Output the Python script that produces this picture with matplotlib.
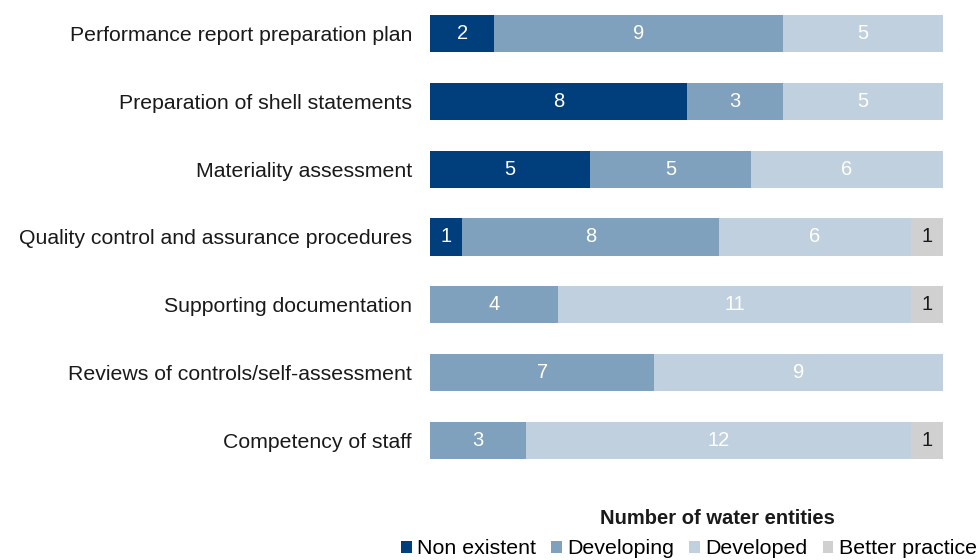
import numpy as np
import matplotlib
matplotlib.use('Agg')
import matplotlib.pyplot as plt
from matplotlib.patches import Patch

plt.rcParams['font.family'] = ['Liberation Sans', 'DejaVu Sans']

categories = [
    'Performance report preparation plan',
    'Preparation of shell statements',
    'Materiality assessment',
    'Quality control and assurance procedures',
    'Supporting documentation',
    'Reviews of controls/self-assessment',
    'Competency of staff',
]
non_existent = [2, 8, 5, 1, 0, 0, 0]
developing = [9, 3, 5, 8, 4, 7, 3]
developed = [5, 5, 6, 6, 11, 9, 12]
better_practice = [0, 0, 0, 1, 1, 0, 1]

series = [
    ('Non existent', non_existent, '#013f7c', 'white'),
    ('Developing', developing, '#7fa1be', 'white'),
    ('Developed', developed, '#c0d0df', 'white'),
    ('Better practice', better_practice, '#d0d0d0', '#1a1a1a'),
]

fig = plt.figure(figsize=(9.8, 5.6), dpi=100)
ax = fig.add_axes([430 / 980, 1 - 474 / 560, 513 / 980, 474 / 560])

y = np.arange(len(categories))
left = np.zeros(len(categories))
for name, vals, color, tcolor in series:
    vals = np.array(vals, dtype=float)
    ax.barh(y, vals, left=left, height=0.55, color=color, edgecolor='none')
    for yi, (l, v) in enumerate(zip(left, vals)):
        if v > 0:
            ax.text(l + v / 2, yi, f'{int(v)}', ha='center', va='center',
                    color=tcolor, fontsize=14.5)
    left += vals

ax.set_xlim(0, 16)
ax.set_ylim(len(categories) - 0.5, -0.5)
ax.set_yticks(y)
ax.set_yticklabels(categories, fontsize=15.3, color='#1a1a1a')
ax.tick_params(axis='y', length=0, pad=13)
ax.set_xticks([])
for s in ax.spines.values():
    s.set_visible(False)

fig.text(717 / 980, 1 - 518 / 560, 'Number of water entities', ha='center',
         va='center', fontsize=14.5, fontweight='bold', color='#1a1a1a')

handles = [Patch(facecolor=c, edgecolor='none') for _, _, c, _ in series]
fig.legend(handles, [n for n, _, _, _ in series], loc='center',
           bbox_to_anchor=(689 / 980, 1 - 549 / 560), ncol=4, frameon=False,
           fontsize=15.4, handlelength=0.5, handleheight=0.5, handletextpad=0.25,
           columnspacing=0.7, borderaxespad=0, borderpad=0)

fig.savefig('out.png', dpi=100)
